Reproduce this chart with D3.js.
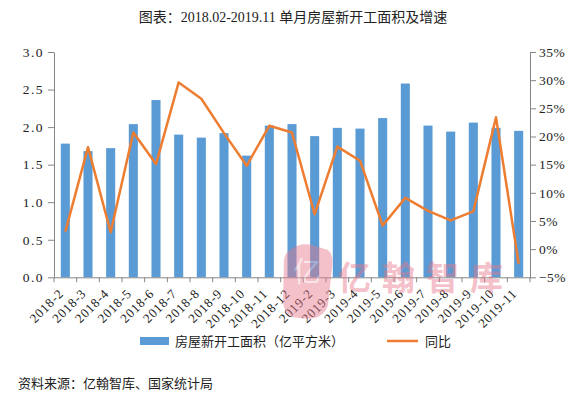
<!DOCTYPE html>
<html>
<head>
<meta charset="utf-8">
<script src="https://cdn.jsdelivr.net/npm/d3@7"></script>
<style>
	body { margin: 0; background: #fff; }
	svg { display: block; font-family: "Liberation Serif", "Noto Sans CJK SC", serif; }
	.cjk { font-family: "Noto Sans CJK SC", sans-serif; }
</style>
</head>
<body>
<svg id="chart" width="588" height="395"></svg>
<script>
// months on the x axis
var months = ["2018-2", "2018-3", "2018-4", "2018-5", "2018-6", "2018-7", "2018-8", "2018-9", "2018-10", "2018-11", "2018-12",
	"2019-2", "2019-3", "2019-4", "2019-5", "2019-6", "2019-7", "2019-8", "2019-9", "2019-10", "2019-11"];

// 房屋新开工面积（亿平方米）
var area = [1.78, 1.68, 1.72, 2.04, 2.36, 1.90, 1.86, 1.92, 1.62, 2.02, 2.04,
	1.88, 1.99, 1.98, 2.12, 2.58, 2.02, 1.94, 2.06, 1.99, 1.95];

// 同比 (%)
var yoy = [3.1, 18.1, 3.0, 20.7, 15.1, 29.6, 26.7, 20.6, 14.8, 21.9, 20.7,
	6.2, 18.2, 15.7, 4.2, 9.1, 6.8, 5.1, 6.7, 23.4, -2.6];

var leftTicks = [0, 0.5, 1.0, 1.5, 2.0, 2.5, 3.0];
var rightTicks = [-5, 0, 5, 10, 15, 20, 25, 30, 35];

var blue = "#5b9bd5",
	orange = "#ed7d31",
	axisColor = "#868686";

var plot = { left: 54, right: 530, top: 52, bottom: 277.3 };

var svg = d3.select("#chart");

var x = d3.scaleBand()
	.domain(months)
	.range([plot.left, plot.right])
	.paddingInner(0.6)
	.paddingOuter(0.3);

var yLeft = d3.scaleLinear().domain([0, 3]).range([plot.bottom, plot.top]);
var yRight = d3.scaleLinear().domain([-5, 35]).range([plot.bottom, plot.top]);

// title
svg.append("text")
	.attr("x", 293)
	.attr("y", 22)
	.attr("text-anchor", "middle")
	.attr("font-size", 14)
	.attr("fill", "#222")
	.text("图表：2018.02-2019.11 单月房屋新开工面积及增速");

// bars
svg.append("g").selectAll("rect")
	.data(area)
	.enter().append("rect")
	.attr("x", function(d, i){ return x(months[i]); })
	.attr("y", function(d){ return yLeft(d); })
	.attr("width", x.bandwidth())
	.attr("height", function(d){ return yLeft(0) - yLeft(d); })
	.attr("fill", blue);

// line
var line = d3.line()
	.x(function(d, i){ return x(months[i]) + x.bandwidth() / 2; })
	.y(function(d){ return yRight(d); });

svg.append("path")
	.datum(yoy)
	.attr("d", line)
	.attr("fill", "none")
	.attr("stroke", orange)
	.attr("stroke-width", 2.5)
	.attr("stroke-linejoin", "round");

// left axis
var leftAxis = d3.axisLeft(yLeft)
	.tickValues(leftTicks)
	.tickFormat(d3.format(".1f"))
	.tickSize(6)
	.tickPadding(4)
	.tickSizeOuter(0);

var gl = svg.append("g")
	.attr("transform", "translate(" + plot.left + ",0)")
	.call(leftAxis);

// right axis
var rightAxis = d3.axisRight(yRight)
	.tickValues(rightTicks)
	.tickFormat(function(d){ return (d < 0 ? "\u2212" + Math.abs(d) : d) + "%"; })
	.tickSize(6)
	.tickPadding(3)
	.tickSizeOuter(0);

var gr = svg.append("g")
	.attr("transform", "translate(" + plot.right + ",0)")
	.call(rightAxis);

// bottom axis: labels at band centres, ticks at band edges
var bottomAxis = d3.axisBottom(x).tickSize(0).tickSizeOuter(0);

var gb = svg.append("g")
	.attr("transform", "translate(0," + plot.bottom + ")")
	.call(bottomAxis);

gb.selectAll(".tick text")
	.attr("text-anchor", "end")
	.attr("x", 0)
	.attr("y", 0)
	.attr("dy", 0)
	.attr("transform", "translate(-1,17) rotate(-45)")
	.attr("font-size", 13)
	.attr("letter-spacing", 0.8);

var step = x.step();
gb.selectAll(".edge")
	.data(d3.range(months.length + 1))
	.enter().append("line")
	.attr("class", "edge")
	.attr("x1", function(i){ return plot.left + i * step; })
	.attr("x2", function(i){ return plot.left + i * step; })
	.attr("y1", 0)
	.attr("y2", 5)
	.attr("stroke", axisColor);

[gl, gr, gb].forEach(function(g){
	g.selectAll(".domain").attr("stroke", axisColor);
	g.selectAll(".tick line").attr("stroke", axisColor);
	g.selectAll(".tick text").attr("fill", "#222");
	g.attr("font-family", null);
});
gl.selectAll(".tick text").attr("font-size", 13.5).attr("letter-spacing", 1.5);
gr.selectAll(".tick text").attr("font-size", 13.5).attr("letter-spacing", 0.5);

// watermark
var wm = svg.append("g").attr("opacity", 0.45).attr("fill", "#e8788c");
wm.append("path")
	.attr("d", "M290,250 Q300,242 312,245 L328,250 Q334,255 332,268 L328,305 Q324,318 308,319 L292,317 Q283,312 283,300 L284,260 Q285,253 290,250 Z");
wm.append("text")
	.attr("class", "cjk")
	.attr("x", 307)
	.attr("y", 282)
	.attr("text-anchor", "middle")
	.attr("font-size", 28)
	.attr("fill", "#fff")
	.attr("opacity", 0.6)
	.text("亿");
wm.append("text")
	.attr("class", "cjk")
	.attr("x", 338)
	.attr("y", 290)
	.attr("font-size", 33)
	.attr("font-weight", "bold")
	.attr("letter-spacing", 11)
	.text("亿翰智库");

// legend
var legend = svg.append("g").attr("class", "cjk").attr("font-size", 13).attr("fill", "#222");
legend.append("rect")
	.attr("x", 140).attr("y", 337)
	.attr("width", 29).attr("height", 8)
	.attr("fill", blue);
legend.append("text")
	.attr("x", 175).attr("y", 346)
	.text("房屋新开工面积（亿平方米）");
legend.append("line")
	.attr("x1", 387).attr("x2", 418)
	.attr("y1", 341).attr("y2", 341)
	.attr("stroke", orange)
	.attr("stroke-width", 2.5);
legend.append("text")
	.attr("x", 425).attr("y", 346)
	.text("同比");

// source
svg.append("text")
	.attr("class", "cjk")
	.attr("x", 18)
	.attr("y", 388)
	.attr("font-size", 13)
	.attr("fill", "#222")
	.text("资料来源：亿翰智库、国家统计局");
</script>
</body>
</html>
